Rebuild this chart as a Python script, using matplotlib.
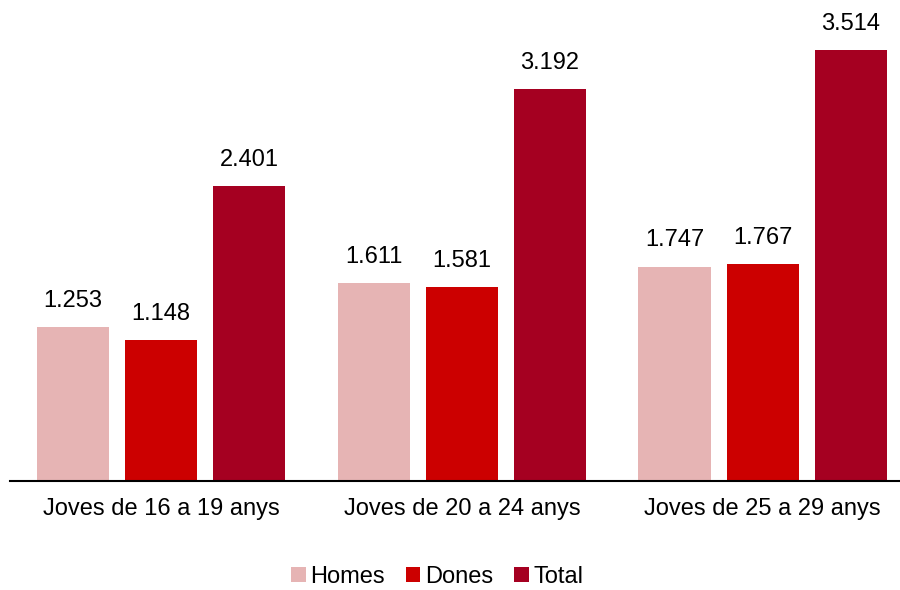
import matplotlib
matplotlib.use("Agg")
import matplotlib.pyplot as plt
import numpy as np

plt.rcParams['font.family'] = ['Liberation Sans', 'DejaVu Sans']

categories = ["Joves de 16 a 19 anys", "Joves de 20 a 24 anys", "Joves de 25 a 29 anys"]
series_names = ["Homes", "Dones", "Total"]
homes = [1253, 1611, 1747]
dones = [1148, 1581, 1767]
total = [2401, 3192, 3514]
colors = ["#E6B4B4", "#CC0000", "#A50021"]

def fmt(v):
    return f"{v:,}".replace(",", ".")

fig = plt.figure(figsize=(9, 5.9), dpi=100)
ax = fig.add_axes([0.0111, 0.1847, 0.9889, 0.8153])

x = np.arange(len(categories))
width = 0.24
step = 0.293
for i, (vals, name, c) in enumerate(zip([homes, dones, total], series_names, colors)):
    pos = x + (i - 1) * step
    bars = ax.bar(pos, vals, width=width, color=c, label=name)
    for b, v in zip(bars, vals):
        ax.annotate(fmt(v), (b.get_x() + b.get_width() / 2, v), xytext=(0, 11),
                    textcoords="offset points", ha="center", va="bottom", fontsize=17)

ax.set_xlim(-0.503, 2.457)
ax.set_ylim(0, 3920)
for s in ["top", "right", "left"]:
    ax.spines[s].set_visible(False)
ax.spines["bottom"].set_linewidth(1.5)
ax.set_yticks([])
ax.set_xticks(x)
ax.set_xticklabels(categories, fontsize=17)
ax.tick_params(axis="x", length=0, pad=12)

leg = fig.legend(loc="center", bbox_to_anchor=(0.486, 0.022), ncol=3, frameon=False,
                 fontsize=17, handlelength=0.6, handleheight=0.6, handletextpad=0.2,
                 columnspacing=0.9, borderpad=0.1)

fig.savefig("out.png", dpi=100)
